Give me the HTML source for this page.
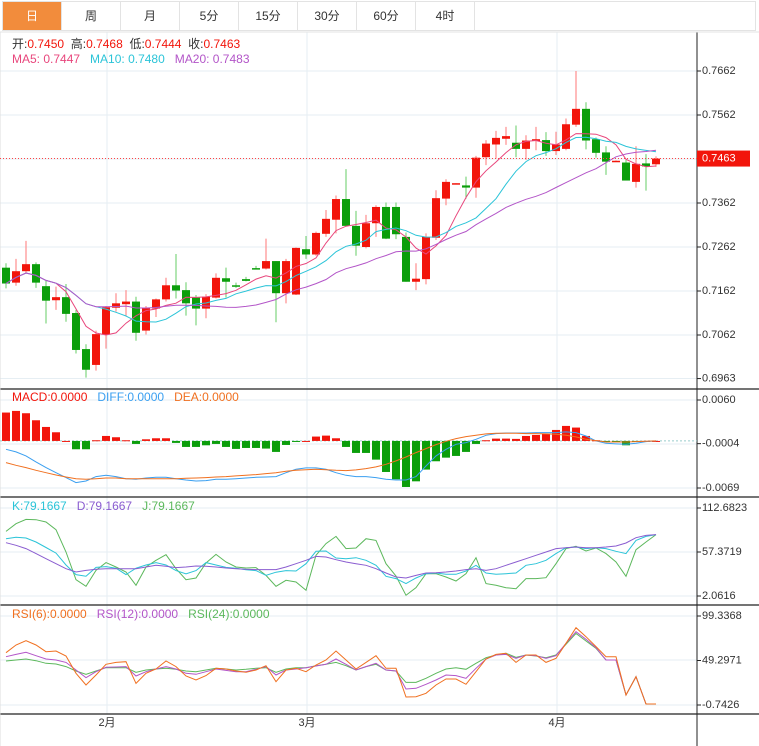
<!DOCTYPE html>
<html><head><meta charset="utf-8">
<style>
body{margin:0;background:#fff;font-family:"Liberation Sans","Noto Sans CJK SC",sans-serif;}
#wrap{position:relative;width:759px;height:746px;overflow:hidden;background:#fff}
.tabs{position:absolute;left:2px;top:1px;width:754px;height:30px;border:1px solid #e3e3e3;box-sizing:border-box;display:flex}
.tab{width:59px;height:28px;line-height:28px;text-align:center;font-size:12px;color:#333;border-right:1px solid #e3e3e3;box-sizing:border-box}
.tab.on{background:#f28c3c;color:#fff}
svg{position:absolute;left:0;top:0}
</style></head><body>
<div id="wrap">
<div class="tabs">
<div class="tab on">日</div>
<div class="tab">周</div>
<div class="tab">月</div>
<div class="tab">5分</div>
<div class="tab">15分</div>
<div class="tab">30分</div>
<div class="tab">60分</div>
<div class="tab">4时</div>
</div>
<svg id="svg" width="759" height="746"></svg>
</div>
<script>
const opens=[0.7215,0.7181,0.7207,0.7223,0.7173,0.7141,0.7148,0.7112,0.7030,0.6994,0.7063,0.7124,0.7132,0.7138,0.7072,0.7122,0.7143,0.7175,0.7164,0.7147,0.7122,0.7147,0.7191,0.7175,0.7189,0.7214,0.7213,0.7230,0.7157,0.7154,0.7257,0.7245,0.7292,0.7324,0.7371,0.7310,0.7262,0.7316,0.7353,0.7353,0.7285,0.7183,0.7189,0.7283,0.7372,0.7406,0.7402,0.7397,0.7466,0.7495,0.7508,0.7499,0.7485,0.7503,0.7505,0.7480,0.7485,0.7540,0.7576,0.7507,0.7477,0.7457,0.7454,0.7410,0.7452,0.7450];
const highs=[0.7225,0.7235,0.7276,0.7227,0.7187,0.7172,0.7178,0.7119,0.7041,0.7072,0.7128,0.7157,0.7164,0.7149,0.7128,0.7145,0.7192,0.7246,0.7182,0.7153,0.7155,0.7202,0.7215,0.7181,0.7194,0.7219,0.7281,0.7230,0.7235,0.7261,0.7287,0.7297,0.7346,0.7379,0.7439,0.7344,0.7335,0.7357,0.7363,0.7363,0.7295,0.7225,0.7293,0.7391,0.7416,0.7407,0.7422,0.7469,0.7505,0.7526,0.7535,0.7538,0.7516,0.7535,0.7523,0.7524,0.7554,0.7662,0.7591,0.7511,0.7491,0.7459,0.7460,0.7491,0.7473,0.7468];
const lows=[0.7168,0.7174,0.7202,0.7169,0.7088,0.7119,0.7092,0.7020,0.6965,0.6981,0.7031,0.7115,0.7106,0.7049,0.7063,0.7103,0.7138,0.7145,0.7106,0.7084,0.7100,0.7145,0.7147,0.7169,0.7184,0.7212,0.7211,0.7091,0.7134,0.7153,0.7235,0.7242,0.7285,0.7293,0.7310,0.7242,0.7259,0.7285,0.7280,0.7280,0.7183,0.7164,0.7177,0.7278,0.7357,0.7406,0.7372,0.7374,0.7448,0.7463,0.7494,0.7466,0.7460,0.7482,0.7469,0.7471,0.7482,0.7535,0.7484,0.7465,0.7426,0.7456,0.7413,0.7397,0.7390,0.7444];
const closes=[0.7179,0.7207,0.7223,0.7181,0.7140,0.7148,0.7110,0.7028,0.6983,0.7064,0.7125,0.7134,0.7138,0.7067,0.7123,0.7143,0.7175,0.7163,0.7134,0.7122,0.7149,0.7192,0.7183,0.7172,0.7185,0.7213,0.7230,0.7157,0.7230,0.7260,0.7245,0.7294,0.7326,0.7371,0.7310,0.7265,0.7316,0.7353,0.7281,0.7291,0.7183,0.7190,0.7285,0.7373,0.7410,0.7407,0.7397,0.7465,0.7497,0.7510,0.7514,0.7485,0.7504,0.7507,0.7480,0.7495,0.7541,0.7576,0.7504,0.7476,0.7456,0.7458,0.7413,0.7451,0.7445,0.7463];
// MACD values in units of 1e-4
const macdHistE4=[41.6,44,40.6,30.3,20.5,12.7,0,-12.2,-12.2,1,7.3,5.4,1,-4.4,2.4,3.9,3.9,-2.9,-8.8,-8.8,-6.4,-4.4,-8.8,-11.7,-10.3,-10.3,-11.2,-16.1,-5.9,-1.5,0,6.4,7.8,3.9,-8.8,-17.6,-17.6,-27.4,-45.5,-56.2,-67.5,-59.2,-42,-29.8,-24.5,-22,-16.1,-4.4,1,3.4,3.4,3,7.3,8.8,10.8,16.1,22,19.6,7.3,1,-1.5,-1.5,-6.4,-1.5,0,0];
const diffE4=[-12.2,-16.1,-22,-30.8,-39.1,-46.5,-53.8,-61.1,-58.7,-52.3,-50.4,-52.3,-55.3,-56.2,-54.3,-53.3,-53.3,-55.3,-57.2,-58.7,-58.2,-56.2,-56.2,-55.3,-54.3,-53.3,-52.8,-52.3,-46.5,-41.6,-39.6,-39.6,-41.6,-46.5,-50.4,-52.3,-52.3,-53.8,-56.2,-57.2,-57.2,-52.3,-36.7,-22,-12.2,-4.9,-2.4,2.4,8.3,10.8,11.7,11.7,11.7,12.2,12.2,12.2,13.2,12.2,7.3,0,-3.4,-4.4,-4.9,-3.4,-1,0];
const deaE4=[-31.8,-35.7,-39.1,-43,-46.5,-49.9,-52.8,-55.3,-56.2,-55.3,-54.3,-54.3,-55.3,-55.3,-55.3,-55.3,-55.3,-55.3,-54.8,-54.3,-53.8,-52.8,-52.3,-51.3,-50.4,-49.4,-47.9,-46.5,-44.5,-43,-42.1,-41.6,-42.1,-43,-43.5,-42.5,-40.6,-38.1,-34.2,-29.3,-23.5,-17.1,-11.2,-5.4,-0.5,3.4,6.4,8.3,10.3,11.2,11.2,11.2,10.8,10.8,10.3,9.8,8.3,5.9,2.4,0.5,-1.5,-1.5,-1.5,-1,-0.5,0];
const kVals=[74,76,75,70,63,56,41,29,27,38,39,37,29,37,41,44,41,34,30,34,44,41,38,37,35,34,28,32,34,33.5,42.7,58.2,58.6,49.8,49,50.2,46.9,40.6,26.8,23.9,17.6,24.7,30.1,31,29.3,29.3,33.5,40.6,31,29.3,30.1,31,40.6,42.7,46.9,55.3,62.8,63.7,61.6,62.8,61.6,58.2,55.3,72,77,79.2];
const dVals=[69.1,65.8,61.6,55.3,49,42.7,36.4,32.2,34.3,35.6,36.4,36.4,36.4,36.4,38.5,40.6,39.4,37.7,38.5,39.8,39.4,38.5,37.3,36.4,35.6,35.2,35.2,35.2,38.5,42.7,46.9,51.9,51.1,47.7,44.8,42.7,40.6,36.4,31,26,24.7,28,31,31.4,32.2,33.5,35.2,36.4,34.3,36.4,40.6,44.8,49,53.2,57.4,61.6,62.8,63.7,62.8,62.8,63.7,64.9,68.7,75.4,78.3,79.2];
const jVals=[83.3,93,98.4,98,95.1,85.4,57.4,22.6,14.2,34.3,44,38.5,32.2,15.5,38.5,46.9,54,36.4,22.6,24.7,43.6,54.4,44.8,38.5,37.3,37.7,28,14.2,21.8,19.7,9.2,53.2,67.9,77,61.6,62.4,74.1,72,42.7,27.2,2.9,12.5,30.1,30.1,26,20.9,30.1,50.2,17.6,15.5,12.5,11.3,23.9,23.9,25.1,42.7,61.6,64.5,58.6,62.4,55.3,44.8,26.8,60.3,69.9,79.2];
const rsi6=[58.1,66.7,71.6,66.7,59.2,60,54.4,34.9,21.8,33,45,47.2,48,23.6,34.9,39.7,48.7,42.4,31.9,27.4,32.3,40.5,39.7,37.5,36,38.6,43.5,25.5,38.6,40.5,36.7,44.2,49.9,60,49.9,39.7,47.2,54.7,40.5,40.5,8.3,8.6,12.4,21.8,28.5,28.5,22.5,36.7,51,56.2,57.4,47.2,55.5,55.5,47.2,51.7,68.6,86.2,76.1,64.9,53.6,53.6,10.5,31.1,0.4,0.4];
const rsi12=[53.6,56.2,58.5,54.7,51,49.9,47.2,38.6,30,36.7,41.6,42,42.4,31.9,36.7,39.7,42.4,39.7,34.9,33.8,36.7,39.7,38.2,36.7,36.7,39.4,42.4,33,38.6,39.7,41.2,43.1,45,51,45,38.6,42.4,46.1,38.6,37.5,17.3,18,22.5,27.4,33,32.3,29.3,40.5,51,55.5,56.2,51.7,55.5,54.7,51.7,54.7,68.6,81.7,73.1,63.7,49.9,49.9,10.5,31.1,0.4,0.4];
const rsi24=[48.7,49.9,51,49.1,46.1,45.4,42.4,37.5,33.8,37.5,41.2,41.2,41.2,36,38.6,39.7,40.5,39.4,37.5,36.7,38.6,40.5,39.7,38.6,39.4,40.5,41.2,36,39.7,41.2,41.2,43.5,45,47.2,43.5,38.6,42.4,45,38.6,37.5,24.7,24.7,29.3,34.9,39.7,41.2,39.4,46.1,52.5,55.5,57.4,52.9,55.5,54.4,52.5,55.5,67.5,79.8,71.2,63,49.9,49.9,10.5,31.1,0.4,0.4];
const priceTicks=[0.7662,0.7562,0.7462,0.7362,0.7262,0.7162,0.7062,0.6963];
const macdTicks=["0.0060","-0.0004","-0.0069"];
const kdjTicks=["112.6823","57.3719","2.0616"];
const rsiTicks=["99.3368","49.2971","-0.7426"];
const monthLabels=["2月","3月","4月"];
const monthIndex=[10,30,55];

const svg=document.getElementById('svg');
const NS='http://www.w3.org/2000/svg';
function mk(t,a,p){const e=document.createElementNS(NS,t);for(const k in a)e.setAttribute(k,a[k]);(p||svg).appendChild(e);return e;}
const AX=697;
const xOf=i=>6+i*10;
const yP=p=>71+(0.7662-p)*4400;
const yM=v=>400+(0.006-v)*6822;
const yME4=v=>yM(v*1e-4);
const yK=v=>508+(112.6823-v)*(88/110.6207);
const yR=v=>616+(99.3368-v)*(89/100.0794);
const N=closes.length;

function hline(y,name){const l=mk('line',{x1:0,x2:AX,y1:y,y2:y,stroke:'#e6eef3','stroke-width':1});}
priceTicks.forEach(p=>hline(yP(p),'price-gridline'));
[400,444,488,508,552,596,616,660,705].forEach(y=>hline(y,'indicator-gridline'));
monthIndex.forEach(i=>{const l=mk('line',{x1:xOf(i)+1,x2:xOf(i)+1,y1:32,y2:714,stroke:'#e6eef3'});});
[389,497,605,714].forEach(y=>{const l=mk('line',{x1:0,x2:759,y1:y,y2:y,stroke:'#222','stroke-width':1.2});});
{const l=mk('line',{x1:AX,x2:AX,y1:32,y2:746,stroke:'#222'});}
{const l=mk('line',{x1:0,x2:0,y1:32,y2:746,stroke:'#ddd'});}
{const l=mk('line',{x1:0,x2:759,y1:32,y2:32,stroke:'#e3e3e3'});}

function label(x,y,txt,name,fill,anchor,size){const t=mk('text',{x:x,y:y,fill:fill||'#333','font-size':size||11,'text-anchor':anchor||'start','dominant-baseline':'middle'});t.textContent=txt;return t;}
function tick(y){const l=mk('line',{x1:AX,x2:AX+4,y1:y,y2:y,stroke:'#222'});}
priceTicks.forEach(p=>{tick(yP(p));label(AX+5,yP(p),p.toFixed(4),'price-tick-label');});
macdTicks.forEach(v=>{tick(yM(+v));label(AX+5,yM(+v),v,'macd-tick-label');});
kdjTicks.forEach(v=>{tick(yK(+v));label(AX+5,yK(+v),v,'kdj-tick-label');});
rsiTicks.forEach(v=>{tick(yR(+v));label(AX+5,yR(+v),v,'rsi-tick-label');});
monthIndex.forEach((i,k)=>label(xOf(i)+1,723,monthLabels[k],'x-axis-month-label','#333','middle',11));

for(let i=0;i<N;i++){
  const up=closes[i]>=opens[i];
  const col=up?'#f2150b':'#0b9e0b', wc=up?'#f77':'#6c6';
  const x=xOf(i);
  const w=mk('line',{x1:x,x2:x,y1:yP(highs[i]),y2:yP(lows[i]),stroke:wc,'stroke-width':1});
  
  
  const t=Math.min(yP(opens[i]),yP(closes[i])),h=Math.max(1.5,Math.abs(yP(opens[i])-yP(closes[i])));
  const r=mk('rect',{x:x-4,y:t,width:8,height:h,fill:col});
  
  
}
function ma(n){return closes.map((c,i)=>{const s=closes.slice(Math.max(0,i-n+1),i+1);return s.reduce((a,b)=>a+b,0)/s.length;});}
function poly(vals,yf,col,name){const pts=vals.map((v,i)=>xOf(i)+','+yf(v).toFixed(1)).join(' ');const p=mk('polyline',{points:pts,fill:'none',stroke:col,'stroke-width':1});}
poly(ma(5),yP,'#e8467c','ma5-line');
poly(ma(10),yP,'#2bc4d8','ma10-line');
poly(ma(20),yP,'#b355c8','ma20-line');
{const l=mk('line',{x1:0,x2:AX,y1:yP(closes[N-1]),y2:yP(closes[N-1]),stroke:'#f44','stroke-dasharray':'1,2'});
const r=mk('rect',{x:AX,y:yP(closes[N-1])-8,width:53,height:16,fill:'#f2150b'});
label(AX+5,yP(closes[N-1]),closes[N-1].toFixed(4),'last-price-value','#fff');}

{const l=mk('line',{x1:0,x2:AX,y1:yM(0),y2:yM(0),stroke:'#9cc','stroke-dasharray':'2,2'});}
macdHistE4.forEach((m,i)=>{const y0=yME4(0),y1=yME4(m);const r=mk('rect',{x:xOf(i)-4,y:Math.min(y0,y1),width:8,height:Math.max(1,Math.abs(y1-y0)),fill:m>=0?'#f2150b':'#0b9e0b'});

});
poly(diffE4,yME4,'#3a9ff0','diff-line');
poly(deaE4,yME4,'#f07020','dea-line');

poly(jVals,yK,'#5cb85c','kdj-j-line');
poly(kVals,yK,'#2bc4d8','kdj-k-line');
poly(dVals,yK,'#8a5cd0','kdj-d-line');

poly(rsi24,yR,'#5cb85c','rsi24-line');
poly(rsi12,yR,'#b355c8','rsi12-line');
poly(rsi6,yR,'#f07020','rsi6-line');

function leg(x,y,parts,name){const t=mk('text',{x:x,y:y,'font-size':12,'dominant-baseline':'middle'});t.style.whiteSpace='pre';parts.forEach(p=>{const s=mk('tspan',{fill:p[1]},t);s.textContent=p[0];});}
leg(12,45,[['开:','#333'],['0.7450  ','#f2150b'],['高:','#333'],['0.7468  ','#f2150b'],['低:','#333'],['0.7444  ','#f2150b'],['收:','#333'],['0.7463','#f2150b']],'ohlc-legend');
leg(12,60,[['MA5: 0.7447   ','#e8467c'],['MA10: 0.7480   ','#2bc4d8'],['MA20: 0.7483','#b355c8']],'ma-legend');
leg(12,398,[['MACD:0.0000   ','#f2150b'],['DIFF:0.0000   ','#3a9ff0'],['DEA:0.0000','#f07020']],'macd-legend');
leg(12,507,[['K:79.1667   ','#2bc4d8'],['D:79.1667   ','#8a5cd0'],['J:79.1667','#5cb85c']],'kdj-legend');
leg(12,615,[['RSI(6):0.0000   ','#f07020'],['RSI(12):0.0000   ','#b355c8'],['RSI(24):0.0000','#5cb85c']],'rsi-legend');
</script>
</body></html>
